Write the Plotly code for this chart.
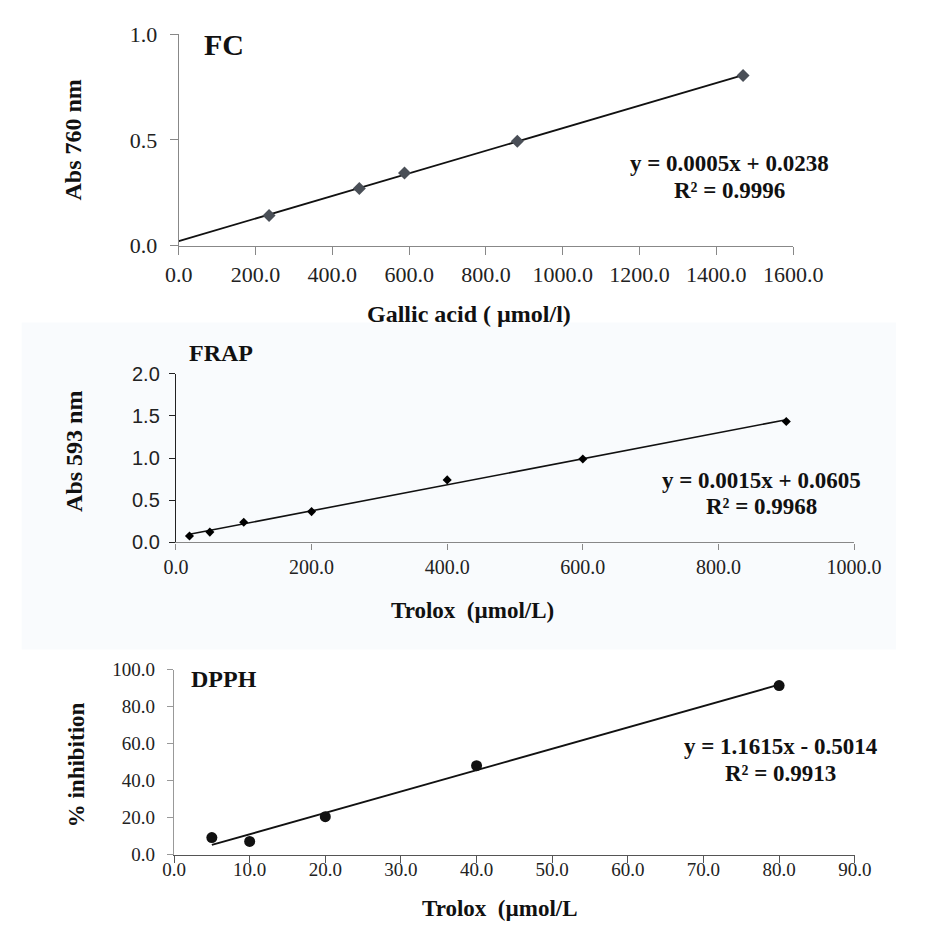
import numpy as np
import plotly.graph_objects as go

# --- Folin-Ciocalteu calibration (gallic acid) ---
fc_x = [235.1, 470.2, 587.8, 881.7, 1469.6]
fc_y = [0.143, 0.270, 0.344, 0.494, 0.805]
fc_eq = "y = 0.0005x + 0.0238"
fc_r2 = "R² = 0.9996"

# --- FRAP calibration (Trolox) ---
frap_x = [20, 50, 100, 200, 400, 600, 900]
frap_y = [0.077, 0.123, 0.239, 0.366, 0.742, 0.989, 1.434]
frap_eq = "y = 0.0015x + 0.0605"
frap_r2 = "R² = 0.9968"

# --- DPPH calibration (Trolox) ---
dpph_x = [5, 10, 20, 40, 80]
dpph_y = [9.2, 7.1, 20.5, 48.1, 91.4]
dpph_eq = "y = 1.1615x - 0.5014"
dpph_r2 = "R² = 0.9913"

W, H = 926, 937
SERIF = "Liberation Serif, Times New Roman, serif"
SANS = "Liberation Sans, Arial, sans-serif"


def px(x):
    return x / W


def py(y):
    return 1 - y / H


def fit_line(xs, ys, x0, x1):
    slope, icpt = np.polyfit(xs, ys, 1)
    return [x0, x1], [slope * x0 + icpt, slope * x1 + icpt]


fig = go.Figure()

# least-squares trend lines
lx, ly = fit_line(fc_x, fc_y, 0, max(fc_x))
fig.add_trace(go.Scatter(x=lx, y=ly, mode="lines", line=dict(color="#111", width=1.8),
                         xaxis="x", yaxis="y", showlegend=False, hoverinfo="skip"))
fig.add_trace(go.Scatter(x=fc_x, y=fc_y, mode="markers",
                         marker=dict(symbol="diamond", size=10, color="#4a4f57"),
                         xaxis="x", yaxis="y", showlegend=False))

lx, ly = fit_line(frap_x, frap_y, min(frap_x), max(frap_x))
fig.add_trace(go.Scatter(x=lx, y=ly, mode="lines", line=dict(color="#111", width=1.6),
                         xaxis="x2", yaxis="y2", showlegend=False, hoverinfo="skip"))
fig.add_trace(go.Scatter(x=frap_x, y=frap_y, mode="markers",
                         marker=dict(symbol="diamond", size=7, color="#000"),
                         xaxis="x2", yaxis="y2", showlegend=False))

lx, ly = fit_line(dpph_x, dpph_y, min(dpph_x), max(dpph_x))
fig.add_trace(go.Scatter(x=lx, y=ly, mode="lines", line=dict(color="#111", width=1.8),
                         xaxis="x3", yaxis="y3", showlegend=False, hoverinfo="skip"))
fig.add_trace(go.Scatter(x=dpph_x, y=dpph_y, mode="markers",
                         marker=dict(symbol="circle", size=11, color="#111"),
                         xaxis="x3", yaxis="y3", showlegend=False))


def axis(domain, rng, dtick, anchor, font, linecolor, ticklen, standoff):
    return dict(domain=domain, range=rng, dtick=dtick, tick0=0, anchor=anchor,
                showline=True, linecolor=linecolor, linewidth=1.3,
                ticks="outside", ticklen=ticklen, tickwidth=1.2, tickcolor=linecolor,
                showgrid=False, zeroline=False, tickformat=".1f",
                tickfont=font, ticklabelstandoff=standoff, fixedrange=True)


f_fc = dict(family=SERIF, size=22, color="#222")
f_serif20 = dict(family=SERIF, size=20, color="#222")
f_sans = dict(family=SANS, size=20, color="#222")
f_serif_d = dict(family=SERIF, size=19, color="#222")

fig.update_layout(
    width=W, height=H, margin=dict(l=0, r=0, t=0, b=0),
    paper_bgcolor="white", plot_bgcolor="rgba(0,0,0,0)",
    xaxis=axis([px(173), px(818)], [0, 1600], 200, "y", f_fc, "#888", 8, 1),
    yaxis=axis([py(240), py(23)], [0, 1.0], 0.5, "x", f_fc, "#888", 8, 8),
    xaxis2=axis([px(170), px(882)], [0, 1000], 200, "y2", f_serif20, "#888", 6, 0),
    yaxis2=axis([py(545), py(371.7)], [0, 2.0], 0.5, "x2", f_sans, "#222", 6, 5),
    xaxis3=axis([px(168), px(882.7)], [0, 90], 10, "y3", f_serif_d, "#555", 7, -10),
    yaxis3=axis([py(865.7), py(675.7)], [0, 100], 20, "x3", f_serif_d, "#999", 6, 8),
)

# light panel behind the FRAP chart
fig.add_shape(type="rect", xref="paper", yref="paper", layer="below",
              x0=px(8), x1=1, y0=py(655), y1=py(319),
              fillcolor="#f9fbfd", line=dict(width=0))


def label(text, x, y, size, angle=0):
    fig.add_annotation(text=text, x=px(x), y=py(y), xref="paper", yref="paper",
                       showarrow=False, textangle=angle, xanchor="center", yanchor="middle",
                       font=dict(family=SERIF, size=size, color="#111"))


# panel headings
label("<b>FC</b>", 220, 33, 30)
label("<b>FRAP</b>", 217, 350, 24)
label("<b>DPPH</b>", 221, 685, 24)

# axis titles
label("<b>Abs 760 nm</b>", 62, 132, 24, -90)
label("<b>Gallic acid ( µmol/l)</b>", 478, 310, 24)
label("<b>Abs 593 nm</b>", 63, 452, 24, -90)
label("<b>Trolox  (µmol/L)</b>", 481, 615, 23)
label("<b>% inhibition</b>", 65, 773, 23, -90)
label("<b>Trolox  (µmol/L</b>", 510, 921, 23)

# regression equations
label(f"<b>{fc_eq}</b>", 751, 156, 23)
label(f"<b>{fc_r2}</b>", 751, 183, 23)
label(f"<b>{frap_eq}</b>", 785, 481, 23)
label(f"<b>{frap_r2}</b>", 785, 508, 23)
label(f"<b>{dpph_eq}</b>", 805, 755, 23)
label(f"<b>{dpph_r2}</b>", 805, 782, 23)

fig.write_html("out.html")
